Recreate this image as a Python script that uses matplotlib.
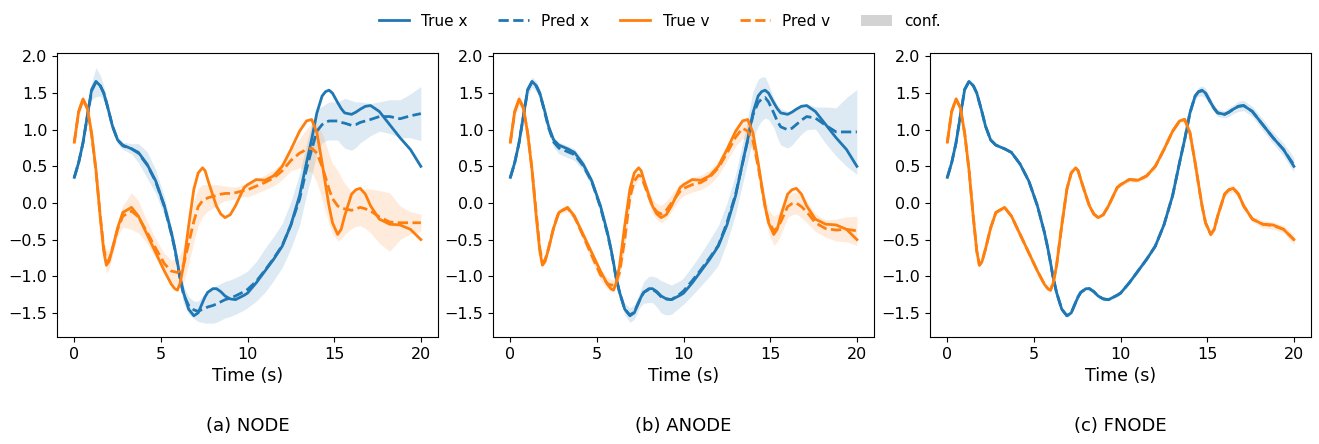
import numpy as np
import matplotlib
matplotlib.use('Agg')
import matplotlib.pyplot as plt
from matplotlib.lines import Line2D
from matplotlib.patches import Patch

# time samples (s), shared by every series
t = [0.0, 0.25, 0.5, 0.75, 1.0, 1.25, 1.5, 1.7, 1.85, 2.0,
     2.2, 2.5, 2.8, 3.3, 3.7, 4.2, 4.7, 5.2, 5.6, 5.8,
     5.95, 6.1, 6.3, 6.6, 6.9, 7.15, 7.4, 7.55, 7.7, 8.0,
     8.2, 8.45, 8.7, 9.0, 9.3, 9.8, 10.0, 10.5, 11.0, 11.5,
     12.0, 12.5, 13.0, 13.4, 13.7, 14.0, 14.3, 14.5, 14.7, 14.9,
     15.2, 15.4, 15.6, 16.0, 16.25, 16.5, 16.8, 17.1, 17.6, 18.2,
     18.8, 19.4, 20.0]

# ground truth
true_x = [0.35, 0.55, 0.82, 1.19, 1.55, 1.66, 1.60, 1.50, 1.37, 1.24,
          1.05, 0.86, 0.79, 0.74, 0.69, 0.53, 0.30, -0.04, -0.40, -0.62,
          -0.81, -1.01, -1.22, -1.45, -1.54, -1.50, -1.36, -1.28, -1.22, -1.17,
          -1.17, -1.21, -1.27, -1.31, -1.32, -1.26, -1.23, -1.09, -0.93, -0.77,
          -0.59, -0.30, 0.10, 0.55, 0.87, 1.23, 1.46, 1.52, 1.54, 1.50,
          1.37, 1.29, 1.23, 1.21, 1.24, 1.28, 1.32, 1.33, 1.25, 1.07,
          0.89, 0.73, 0.50]
true_v = [0.83, 1.25, 1.42, 1.30, 0.95, 0.45, -0.20, -0.66, -0.85, -0.80,
          -0.63, -0.34, -0.13, -0.06, -0.18, -0.43, -0.68, -0.93, -1.11, -1.17,
          -1.19, -1.10, -0.86, -0.31, 0.19, 0.41, 0.48, 0.44, 0.32, 0.10,
          -0.04, -0.15, -0.20, -0.16, -0.04, 0.21, 0.25, 0.32, 0.31, 0.37,
          0.50, 0.73, 0.98, 1.12, 1.14, 0.96, 0.55, 0.25, -0.04, -0.27,
          -0.43, -0.36, -0.18, 0.12, 0.18, 0.20, 0.12, -0.04, -0.22, -0.29,
          -0.30, -0.36, -0.50]

# NODE
pred_x_node = [0.35, 0.55, 0.82, 1.18, 1.53, 1.65, 1.60, 1.50, 1.38, 1.24,
               1.05, 0.86, 0.78, 0.74, 0.68, 0.52, 0.29, -0.05, -0.42, -0.63,
               -0.83, -1.03, -1.25, -1.40, -1.46, -1.48, -1.45, -1.44, -1.42, -1.40,
               -1.38, -1.35, -1.32, -1.30, -1.27, -1.21, -1.18, -1.07, -0.92, -0.76,
               -0.58, -0.30, 0.05, 0.46, 0.73, 0.98, 1.07, 1.10, 1.12, 1.12,
               1.12, 1.10, 1.09, 1.06, 1.07, 1.10, 1.12, 1.14, 1.18, 1.18,
               1.15, 1.19, 1.22]
conf_x_node = [0.03, 0.03, 0.04, 0.07, 0.12, 0.20, 0.14, 0.10, 0.07, 0.06,
               0.05, 0.05, 0.05, 0.07, 0.13, 0.18, 0.16, 0.13, 0.10, 0.10,
               0.10, 0.11, 0.12, 0.12, 0.12, 0.14, 0.18, 0.20, 0.22, 0.24,
               0.25, 0.25, 0.25, 0.25, 0.25, 0.25, 0.25, 0.27, 0.30, 0.30,
               0.30, 0.32, 0.35, 0.35, 0.35, 0.30, 0.25, 0.25, 0.26, 0.26,
               0.26, 0.30, 0.34, 0.34, 0.31, 0.28, 0.25, 0.22, 0.20, 0.23,
               0.26, 0.30, 0.37]
pred_v_node = [0.83, 1.24, 1.41, 1.29, 0.93, 0.44, -0.18, -0.62, -0.80, -0.78,
               -0.62, -0.36, -0.18, -0.11, -0.19, -0.40, -0.62, -0.83, -0.93, -0.94,
               -0.95, -0.92, -0.85, -0.55, -0.25, -0.05, 0.03, 0.05, 0.07, 0.09,
               0.10, 0.12, 0.13, 0.13, 0.14, 0.17, 0.18, 0.23, 0.28, 0.34,
               0.44, 0.58, 0.68, 0.73, 0.75, 0.68, 0.50, 0.35, 0.19, 0.06,
               -0.04, -0.07, -0.08, -0.10, -0.08, -0.06, -0.08, -0.11, -0.19, -0.26,
               -0.27, -0.27, -0.27]
conf_v_node = [0.03, 0.05, 0.06, 0.05, 0.05, 0.05, 0.06, 0.10, 0.16, 0.13,
               0.10, 0.10, 0.15, 0.25, 0.22, 0.15, 0.13, 0.14, 0.15, 0.18,
               0.20, 0.22, 0.25, 0.28, 0.28, 0.25, 0.22, 0.20, 0.18, 0.16,
               0.15, 0.12, 0.10, 0.09, 0.08, 0.08, 0.10, 0.10, 0.10, 0.11,
               0.12, 0.14, 0.20, 0.28, 0.33, 0.40, 0.45, 0.47, 0.48, 0.48,
               0.48, 0.42, 0.35, 0.25, 0.24, 0.25, 0.27, 0.30, 0.36, 0.40,
               0.23, 0.15, 0.12]

# ANODE
pred_x_anode = [0.35, 0.55, 0.82, 1.18, 1.54, 1.65, 1.59, 1.49, 1.36, 1.22,
                1.03, 0.83, 0.75, 0.70, 0.66, 0.51, 0.29, -0.06, -0.42, -0.63,
                -0.82, -1.02, -1.22, -1.45, -1.53, -1.49, -1.36, -1.28, -1.22, -1.18,
                -1.18, -1.22, -1.28, -1.31, -1.32, -1.24, -1.20, -1.06, -0.91, -0.75,
                -0.58, -0.27, 0.12, 0.54, 0.86, 1.20, 1.37, 1.42, 1.44, 1.38,
                1.23, 1.12, 1.04, 1.00, 1.02, 1.07, 1.13, 1.18, 1.16, 1.06,
                0.97, 0.97, 0.97]
conf_x_anode = [0.04, 0.04, 0.05, 0.06, 0.07, 0.07, 0.07, 0.07, 0.06, 0.06,
                0.06, 0.07, 0.08, 0.08, 0.08, 0.07, 0.06, 0.05, 0.05, 0.05,
                0.05, 0.05, 0.06, 0.08, 0.10, 0.10, 0.10, 0.12, 0.15, 0.18,
                0.18, 0.20, 0.22, 0.22, 0.20, 0.18, 0.18, 0.20, 0.22, 0.25,
                0.27, 0.27, 0.27, 0.28, 0.30, 0.32, 0.32, 0.30, 0.28, 0.24,
                0.20, 0.22, 0.25, 0.25, 0.23, 0.21, 0.19, 0.18, 0.15, 0.25,
                0.33, 0.47, 0.58]
pred_v_anode = [0.83, 1.24, 1.41, 1.30, 0.95, 0.46, -0.16, -0.62, -0.81, -0.78,
                -0.62, -0.33, -0.12, -0.07, -0.19, -0.45, -0.72, -0.98, -1.10, -1.12,
                -1.12, -1.08, -0.95, -0.50, 0.08, 0.30, 0.38, 0.36, 0.27, 0.08,
                -0.04, -0.12, -0.15, -0.10, 0.00, 0.16, 0.20, 0.25, 0.28, 0.35,
                0.48, 0.68, 0.90, 1.02, 0.98, 0.85, 0.50, 0.22, -0.05, -0.25,
                -0.38, -0.34, -0.26, -0.05, -0.01, 0.00, -0.05, -0.12, -0.27, -0.35,
                -0.37, -0.36, -0.38]
conf_v_anode = [0.04, 0.06, 0.08, 0.06, 0.05, 0.04, 0.04, 0.04, 0.04, 0.04,
                0.04, 0.04, 0.04, 0.04, 0.05, 0.06, 0.08, 0.08, 0.08, 0.08,
                0.08, 0.09, 0.10, 0.10, 0.10, 0.08, 0.06, 0.06, 0.07, 0.09,
                0.10, 0.11, 0.12, 0.12, 0.12, 0.10, 0.10, 0.10, 0.10, 0.10,
                0.10, 0.11, 0.12, 0.14, 0.15, 0.15, 0.10, 0.10, 0.12, 0.16,
                0.20, 0.19, 0.18, 0.15, 0.15, 0.15, 0.15, 0.15, 0.12, 0.12,
                0.15, 0.17, 0.20]

# FNODE
pred_x_fnode = [0.35, 0.55, 0.82, 1.19, 1.55, 1.66, 1.60, 1.50, 1.37, 1.24,
                1.05, 0.86, 0.79, 0.74, 0.69, 0.53, 0.30, -0.04, -0.40, -0.62,
                -0.81, -1.01, -1.22, -1.45, -1.54, -1.50, -1.36, -1.28, -1.22, -1.17,
                -1.17, -1.21, -1.27, -1.31, -1.32, -1.26, -1.23, -1.09, -0.93, -0.77,
                -0.59, -0.30, 0.10, 0.55, 0.87, 1.23, 1.46, 1.52, 1.53, 1.50,
                1.37, 1.29, 1.23, 1.21, 1.24, 1.28, 1.32, 1.33, 1.25, 1.07,
                0.89, 0.73, 0.52]
conf_x_fnode = [0.02, 0.02, 0.02, 0.02, 0.02, 0.02, 0.02, 0.02, 0.02, 0.02,
                0.02, 0.02, 0.02, 0.02, 0.02, 0.02, 0.02, 0.02, 0.02, 0.02,
                0.02, 0.02, 0.02, 0.02, 0.02, 0.02, 0.02, 0.02, 0.02, 0.02,
                0.02, 0.02, 0.02, 0.02, 0.02, 0.02, 0.02, 0.02, 0.02, 0.02,
                0.02, 0.02, 0.02, 0.03, 0.03, 0.04, 0.05, 0.06, 0.07, 0.07,
                0.06, 0.05, 0.05, 0.05, 0.06, 0.06, 0.07, 0.07, 0.07, 0.08,
                0.08, 0.09, 0.10]
pred_v_fnode = [0.83, 1.25, 1.42, 1.30, 0.95, 0.45, -0.20, -0.66, -0.85, -0.80,
                -0.63, -0.34, -0.13, -0.06, -0.18, -0.43, -0.68, -0.93, -1.11, -1.17,
                -1.19, -1.10, -0.86, -0.31, 0.19, 0.41, 0.48, 0.44, 0.32, 0.10,
                -0.04, -0.15, -0.20, -0.16, -0.04, 0.21, 0.25, 0.32, 0.31, 0.37,
                0.50, 0.73, 0.98, 1.12, 1.14, 0.96, 0.55, 0.25, -0.04, -0.27,
                -0.43, -0.36, -0.18, 0.12, 0.18, 0.20, 0.12, -0.04, -0.22, -0.29,
                -0.31, -0.36, -0.50]
conf_v_fnode = [0.02, 0.02, 0.02, 0.02, 0.02, 0.02, 0.02, 0.02, 0.02, 0.02,
                0.02, 0.02, 0.02, 0.03, 0.02, 0.02, 0.02, 0.02, 0.02, 0.02,
                0.03, 0.02, 0.02, 0.02, 0.02, 0.02, 0.02, 0.02, 0.02, 0.02,
                0.02, 0.02, 0.02, 0.02, 0.02, 0.02, 0.03, 0.03, 0.03, 0.03,
                0.03, 0.03, 0.03, 0.03, 0.03, 0.02, 0.02, 0.02, 0.02, 0.02,
                0.03, 0.03, 0.03, 0.04, 0.05, 0.05, 0.05, 0.04, 0.04, 0.05,
                0.05, 0.05, 0.07]

models = [
    ('(a) NODE', pred_x_node, conf_x_node, pred_v_node, conf_v_node),
    ('(b) ANODE', pred_x_anode, conf_x_anode, pred_v_anode, conf_v_anode),
    ('(c) FNODE', pred_x_fnode, conf_x_fnode, pred_v_fnode, conf_v_fnode),
]

c_x = '#1f77b4'
c_v = '#ff7f0e'
lw = 2.0

fig = plt.figure(figsize=(13.19, 4.44), dpi=100)
lefts = [0.0432, 0.3738, 0.7051]
width = 0.289
tt = np.array(t)

for i, (name, px, cx, pv, cv) in enumerate(models):
    ax = fig.add_axes([lefts[i], 0.241, width, 0.640])
    px, cx, pv, cv = map(np.array, (px, cx, pv, cv))
    ax.fill_between(tt, px - cx, px + cx, color=c_x, alpha=0.15, lw=0)
    ax.fill_between(tt, pv - cv, pv + cv, color=c_v, alpha=0.15, lw=0)
    ax.plot(tt, true_x, color=c_x, lw=lw)
    ax.plot(tt, px, color=c_x, lw=lw, ls='--')
    ax.plot(tt, true_v, color=c_v, lw=lw)
    ax.plot(tt, pv, color=c_v, lw=lw, ls='--')
    ax.set_xlim(-1, 21)
    ax.set_ylim(-1.83, 2.05)
    ax.set_xticks([0, 5, 10, 15, 20])
    ax.set_yticks([-1.5, -1.0, -0.5, 0.0, 0.5, 1.0, 1.5, 2.0])
    ax.tick_params(labelsize=11.5)
    ax.set_xlabel('Time (s)', fontsize=12.5)
    fig.text(lefts[i] + width / 2, 0.04, name, ha='center', va='center', fontsize=13)

handles = [Line2D([], [], color=c_x, lw=lw),
           Line2D([], [], color=c_x, lw=lw, ls='--'),
           Line2D([], [], color=c_v, lw=lw),
           Line2D([], [], color=c_v, lw=lw, ls='--'),
           Patch(facecolor='lightgray', edgecolor='none')]
labels = ['True x', 'Pred x', 'True v', 'Pred v', 'conf.']
fig.legend(handles, labels, loc='upper center', bbox_to_anchor=(0.5, 1.0),
           ncol=5, frameon=False, fontsize=11, columnspacing=2.0)

fig.savefig('out.png', dpi=100)
